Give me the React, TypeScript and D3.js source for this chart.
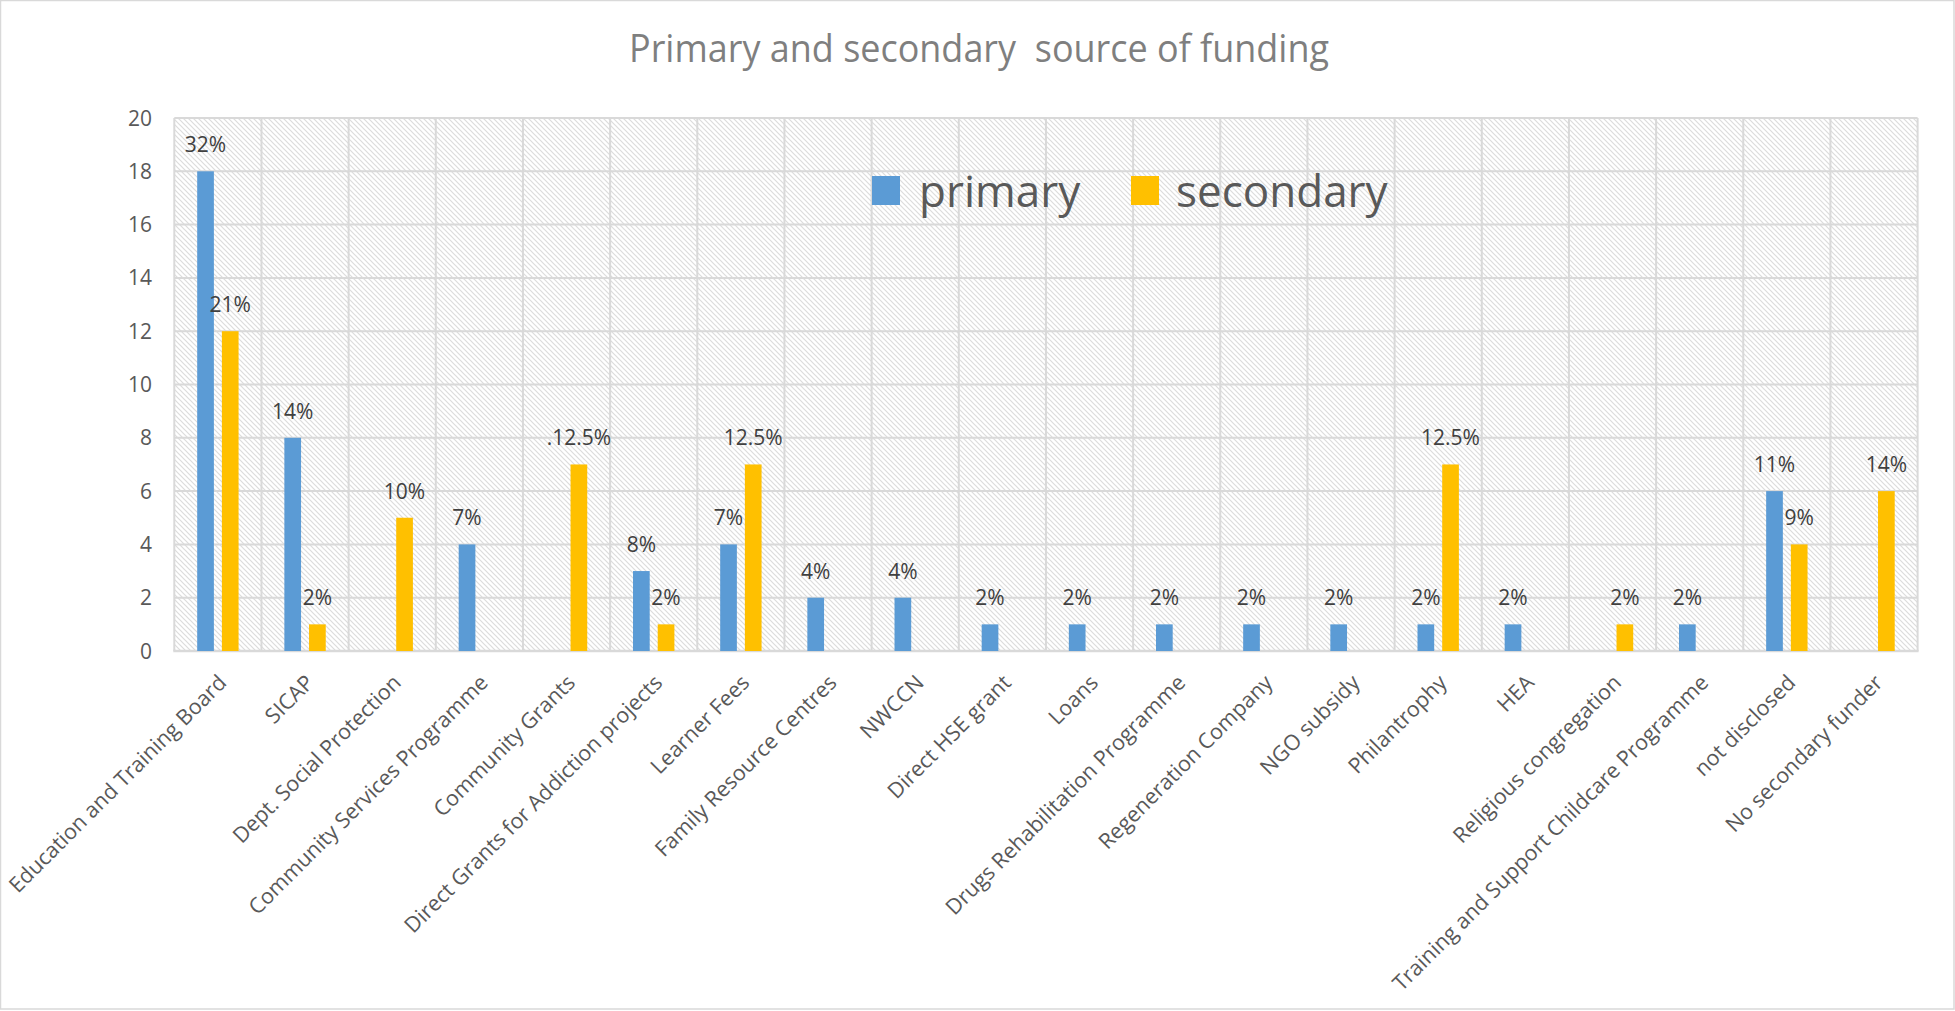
import * as React from 'react';
import * as d3 from 'd3';

const categories = [
  'Education and Training Board',
  'SICAP',
  'Dept. Social Protection',
  'Community Services Programme',
  'Community Grants',
  'Direct Grants for Addiction projects',
  'Learner Fees',
  'Family Resource Centres',
  'NWCCN',
  'Direct HSE grant',
  'Loans',
  'Drugs Rehabilitation Programme',
  'Regeneration Company',
  'NGO subsidy',
  'Philantrophy',
  'HEA',
  'Religious congregation',
  'Training and Support Childcare Programme',
  'not disclosed',
  'No secondary funder',
];

const primary = [18, 8, 0, 4, 0, 3, 4, 2, 2, 1, 1, 1, 1, 1, 1, 1, 0, 1, 6, 0];
const secondary = [12, 1, 5, 0, 7, 1, 7, 0, 0, 0, 0, 0, 0, 0, 7, 0, 1, 0, 4, 6];

const primaryLabels = ['32%', '14%', '', '7%', '', '8%', '7%', '4%', '4%', '2%', '2%', '2%', '2%', '2%', '2%', '2%', '', '2%', '11%', ''];
const secondaryLabels = ['21%', '2%', '10%', '', '.12.5%', '2%', '12.5%', '', '', '', '', '', '', '', '12.5%', '', '2%', '', '9%', '14%'];

const yTicks = [0, 2, 4, 6, 8, 10, 12, 14, 16, 18, 20];

const seriesNames = ['primary', 'secondary'];
const seriesColors = ['#5B9BD5', '#FFC000'];

const W = 1955;
const H = 1011;
const FONT = "'Open Sans', 'Noto Sans', sans-serif";

export default function App() {
  const plot = { left: 174.3, right: 1917.6, top: 118, bottom: 651 };

  const x = d3.scaleBand<string>().domain(categories).range([plot.left, plot.right]).padding(0);
  const x1 = d3.scaleBand<string>().domain(seriesNames).range([0, x.bandwidth()])
    .paddingInner(0.324).paddingOuter(0.927);
  const y = d3.scaleLinear().domain([0, 20]).range([plot.bottom, plot.top]);

  const series = [
    { name: 'primary', values: primary, labels: primaryLabels, color: seriesColors[0] },
    { name: 'secondary', values: secondary, labels: secondaryLabels, color: seriesColors[1] },
  ];

  const gridColor = '#d9d9d9';

  return (
    <div style={{ position: 'absolute', left: 0, top: 0 }}>
      <svg width={W} height={H} viewBox={`0 0 ${W} ${H}`} style={{ display: 'block', background: '#fff' }}>
        <defs>
          <pattern id="hatch" width="5" height="5" patternUnits="userSpaceOnUse">
            <rect width="5" height="5" fill="#ffffff" />
            <path d="M-1,-1 L6,6 M-1,4 L1,6 M4,-1 L6,1" stroke="#dcdcdc" strokeWidth="1.2" />
          </pattern>
        </defs>

        {/* chart border */}
        <rect x={0.5} y={0.5} width={W - 1.5} height={1008.5} fill="#fff" stroke="#d9d9d9" strokeWidth={1.5} />

        {/* title */}
        <text x={979} y={62} textAnchor="middle" fontFamily={FONT} fontSize={38} fill="#7f7f7f"
          textLength={700} lengthAdjust="spacingAndGlyphs" style={{ whiteSpace: 'pre' }}>
          Primary and secondary  source of funding
        </text>

        {/* plot background */}
        <rect x={plot.left} y={plot.top} width={plot.right - plot.left} height={plot.bottom - plot.top} fill="url(#hatch)" />

        {/* horizontal gridlines */}
        {yTicks.map(t => (
          <line key={'h' + t} x1={plot.left} x2={plot.right} y1={y(t)} y2={y(t)} stroke={gridColor} strokeWidth={2} />
        ))}
        {/* vertical gridlines */}
        {categories.map(c => (
          <line key={'v' + c} x1={x(c)!} x2={x(c)!} y1={plot.top} y2={plot.bottom} stroke={gridColor} strokeWidth={2} />
        ))}
        <line x1={plot.right} x2={plot.right} y1={plot.top} y2={plot.bottom} stroke={gridColor} strokeWidth={2} />
        <line x1={plot.left - 1} x2={plot.right + 1} y1={plot.bottom} y2={plot.bottom} stroke={gridColor} strokeWidth={2.5} />

        {/* y tick labels */}
        {yTicks.map(t => (
          <text key={'yl' + t} x={152} y={y(t)} dy="0.36em" textAnchor="end" fontFamily={FONT} fontSize={21} fill="#595959">
            {t}
          </text>
        ))}

        {/* bars */}
        {series.map(s => (
          <g key={s.name}>
            {s.values.map((v, i) => v > 0 ? (
              <rect key={i} x={x(categories[i])! + x1(s.name)!} y={y(v)} width={x1.bandwidth()}
                height={y(0) - y(v)} fill={s.color} />
            ) : null)}
          </g>
        ))}

        {/* data labels */}
        {series.map(s => (
          <g key={s.name + 'l'}>
            {s.values.map((v, i) => s.labels[i] ? (
              <text key={i} x={x(categories[i])! + x1(s.name)! + x1.bandwidth() / 2} y={y(v) - 19}
                textAnchor="middle" fontFamily={FONT} fontSize={21} fill="#404040">
                {s.labels[i]}
              </text>
            ) : null)}
          </g>
        ))}

        {/* x labels */}
        {categories.map(c => (
          <text key={'xl' + c} transform={`translate(${x(c)! + x.bandwidth() / 2 + 10},${plot.bottom + 33}) rotate(-45)`}
            textAnchor="end" fontFamily={FONT} fontSize={21.5} fill="#595959">
            {c}
          </text>
        ))}

        {/* legend */}
        {seriesNames.map((n, i) => {
          const lx = [872, 1131][i];
          const tx = [919, 1176][i];
          return (
            <g key={'lg' + n}>
              <rect x={lx} y={176} width={28} height={29} fill={seriesColors[i]} />
              <text x={tx} y={207} fontFamily={FONT} fontSize={44} fill="#595959">{n}</text>
            </g>
          );
        })}
      </svg>
    </div>
  );
}
